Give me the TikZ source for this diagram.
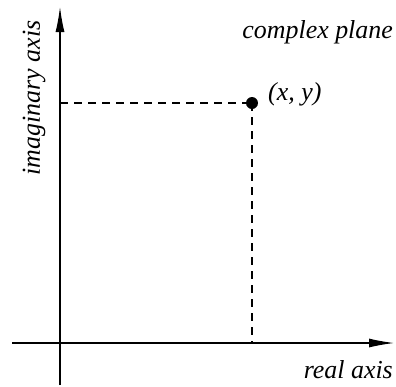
\documentclass[tikz,border=0pt]{standalone}
\usepackage{fontspec}
\setmainfont{Liberation Serif}
\usetikzlibrary{arrows.meta}
\begin{document}
\begin{tikzpicture}[x=1bp,y=-1bp,
  axis/.style={line width=1.1bp,-{Latex[length=25bp,width=9bp]}},
  guide/.style={line width=1.1bp,dash pattern=on 8bp off 6bp},
  lbl/.style={font=\fontsize{26}{30}\selectfont\itshape,inner sep=0pt}]
\useasboundingbox (0,0) rectangle (396,387);
\coordinate (xs) at (12,343);
\coordinate (xe) at (394,343);
\coordinate (ys) at (60,385);
\coordinate (ye) at (60,7);
\coordinate (px) at (60,103);
\coordinate (py) at (252,343);
\node[circle,fill=black,inner sep=0pt,minimum size=12bp] (p) at (252,103) {};
\draw[axis] (xs) -- (xe);
\draw[axis] (ys) -- (ye);
\draw[guide] (px) -- (p.center);
\draw[guide] (p.center) -- (py);
\node[lbl,anchor=west] (plbl) at (268,94) {(x, y)};
\node[lbl,anchor=east] (cp) at (393,32) {complex plane};
\node[lbl,anchor=east] (ra) at (393,370) {real axis};
\node[lbl,rotate=90] (ia) at (34,98) {imaginary axis};
\end{tikzpicture}
\end{document}
